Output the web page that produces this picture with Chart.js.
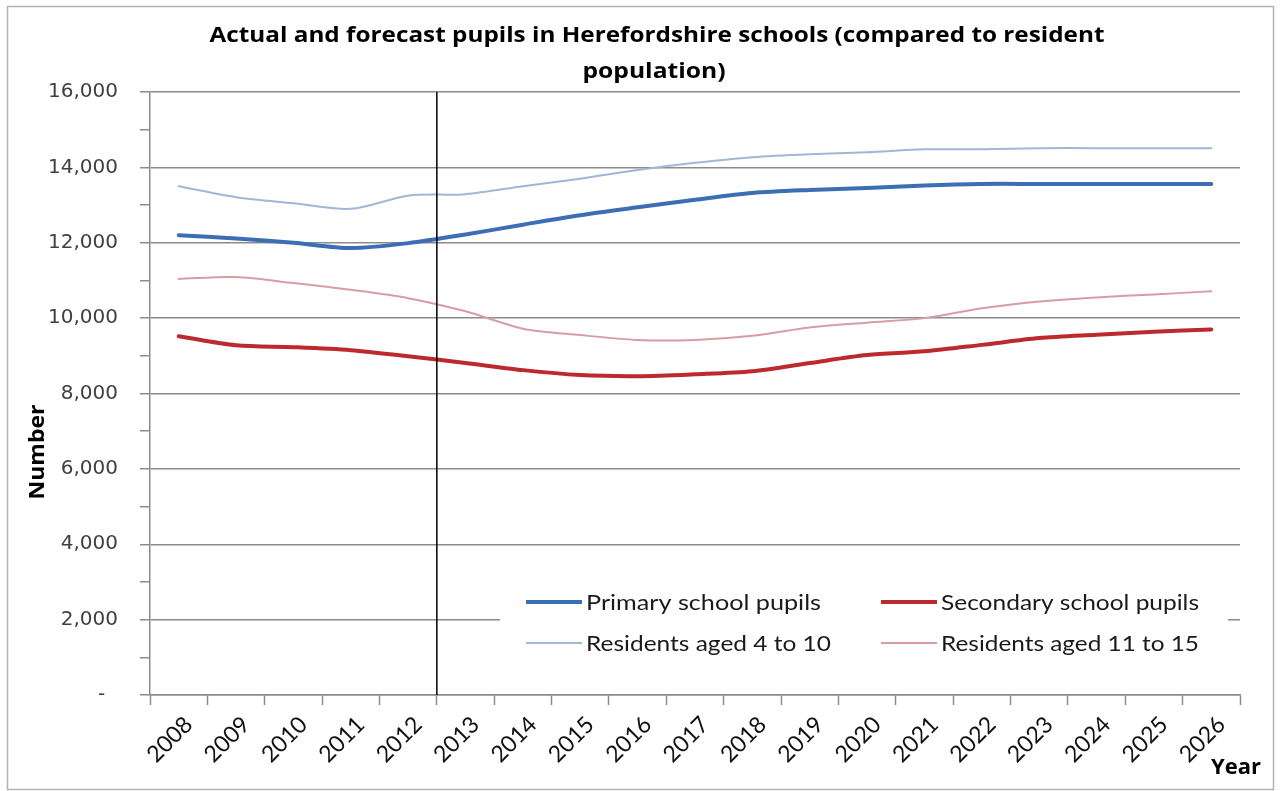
<!DOCTYPE html>
<html>
<head>
<meta charset="utf-8">
<script src="https://cdn.jsdelivr.net/npm/chart.js@4.4.1/dist/chart.umd.min.js"></script>
<style>
  html, body { margin: 0; padding: 0; background: #fff; }
  #wrap { position: relative; width: 1281px; height: 791px; }
</style>
</head>
<body>
<div id="wrap"><canvas id="pupilsChart" width="1281" height="791"></canvas></div>
<script>
const years = ["2008", "2009", "2010", "2011", "2012", "2013", "2014", "2015", "2016", "2017",
  "2018", "2019", "2020", "2021", "2022", "2023", "2024", "2025", "2026"];

const primaryPupils = [12200, 12110, 12000, 11860, 11990, 12220, 12480, 12730, 12940, 13140,
  13320, 13400, 13450, 13520, 13560, 13560, 13560, 13560, 13560];
const secondaryPupils = [9520, 9280, 9230, 9150, 8990, 8810, 8620, 8490, 8460, 8510,
  8590, 8810, 9020, 9120, 9290, 9470, 9560, 9640, 9700];
const residents4to10 = [13500, 13210, 13050, 12900, 13250, 13290, 13500, 13700, 13930, 14120,
  14270, 14350, 14400, 14480, 14480, 14510, 14510, 14510, 14510];
const residents11to15 = [11040, 11090, 10930, 10750, 10530, 10180, 9720, 9550, 9420, 9420,
  9530, 9750, 9880, 10000, 10260, 10440, 10550, 10630, 10710];

const seriesNames = ["Primary school pupils", "Secondary school pupils",
  "Residents aged 4 to 10", "Residents aged 11 to 15"];
const titleLines = ["Actual and forecast pupils in Herefordshire schools (compared to resident", "population)"];

const gridGrey = "#8c8c8c";

// the source picture is a bit stretched sideways, so text gets fitted to a width
function wideText(c, text, x, y, width) {
  const w = c.measureText(text).width;
  const k = width / w;
  c.save();
  c.translate(x, y);
  c.scale(k, 1);
  c.fillText(text, 0, 0);
  c.restore();
}

const extras = {
  id: "extras",
  beforeDraw(chart) {
    const c = chart.ctx;
    c.save();
    c.fillStyle = "#fff";
    c.fillRect(0, 0, chart.width, chart.height);
    c.restore();
  },
  afterDatasetsDraw(chart) {
    const c = chart.ctx;
    const x = chart.scales.x;
    const area = chart.chartArea;
    // actual / forecast split sits between 2012 and 2013
    const splitX = (x.getPixelForValue(4) + x.getPixelForValue(5)) / 2;
    c.save();
    c.strokeStyle = "#000";
    c.lineWidth = 1.5;
    c.beginPath();
    c.moveTo(splitX, area.top);
    c.lineTo(splitX, area.bottom);
    c.stroke();
    c.restore();
  },
  afterDraw(chart) {
    const c = chart.ctx;
    c.save();

    c.strokeStyle = "#b4b4b4";
    c.lineWidth = 1.5;
    c.strokeRect(7.5, 6.5, 1266, 783);

    // title
    c.fillStyle = "#000";
    c.font = "bold 22px 'Open Sans'";
    c.textAlign = "center";
    c.textBaseline = "middle";
    wideText(c, titleLines[0], 657, 36, 895);
    wideText(c, titleLines[1], 654, 72, 143);

    // axis titles
    c.font = "bold 21px 'Open Sans'";
    c.save();
    c.translate(38, 452);
    c.rotate(-Math.PI / 2);
    wideText(c, "Number", 0, 0, 95);
    c.restore();
    c.font = "bold 22px 'Open Sans'";
    c.textAlign = "left";
    c.fillText("Year", 1211, 768);

    // legend
    c.fillStyle = "#fff";
    c.fillRect(500, 580, 728, 84);
    const ds = chart.data.datasets;
    const items = [
      { d: ds[0], x: 526, y: 602, w: 235 },
      { d: ds[1], x: 881, y: 602, w: 258 },
      { d: ds[2], x: 526, y: 643, w: 245 },
      { d: ds[3], x: 881, y: 643, w: 258 }
    ];
    c.font = "22px Lato";
    c.textAlign = "left";
    c.textBaseline = "middle";
    items.forEach((it) => {
      c.strokeStyle = it.d.borderColor;
      c.lineWidth = it.d.borderWidth;
      c.beginPath();
      c.moveTo(it.x, it.y);
      c.lineTo(it.x + 56, it.y);
      c.stroke();
      c.fillStyle = "#1a1a1a";
      wideText(c, it.d.label, it.x + 60, it.y + 1, it.w);
    });
    c.restore();
  }
};

new Chart(document.getElementById("pupilsChart"), {
  type: "line",
  data: {
    labels: years,
    datasets: [
      { label: seriesNames[0], data: primaryPupils, borderColor: "#3b6eb4", borderWidth: 4 },
      { label: seriesNames[1], data: secondaryPupils, borderColor: "#bc2a2f", borderWidth: 4 },
      { label: seriesNames[2], data: residents4to10, borderColor: "#9fb7d8", borderWidth: 2 },
      { label: seriesNames[3], data: residents11to15, borderColor: "#d89ca4", borderWidth: 2 }
    ]
  },
  options: {
    responsive: false,
    animation: false,
    devicePixelRatio: 1,
    elements: {
      point: { radius: 0 },
      line: { tension: 0.3, borderCapStyle: "round" }
    },
    layout: { padding: { top: 92, right: 41, left: 0, bottom: 0 } },
    plugins: {
      legend: { display: false },
      title: { display: false },
      tooltip: { enabled: false }
    },
    scales: {
      x: {
        offset: true,
        grid: {
          offset: true,
          drawOnChartArea: false,
          drawTicks: true,
          tickLength: 10,
          tickColor: gridGrey,
          tickWidth: 1.5
        },
        border: { color: gridGrey, width: 1.5 },
        ticks: {
          autoSkip: false,
          minRotation: 45,
          maxRotation: 45,
          labelOffset: 10,
          padding: 6,
          color: "#111",
          font: { family: "Lato", size: 23 }
        },
        afterFit(scale) { scale.height = 96; }
      },
      y: {
        min: 0,
        max: 16000,
        grid: {
          color: (ctx) => (ctx.tick && ctx.tick.value % 2000 === 0 ? gridGrey : "rgba(0,0,0,0)"),
          lineWidth: 1.5,
          tickColor: gridGrey,
          tickLength: 10,
          tickWidth: 1.5
        },
        border: { color: gridGrey, width: 1.5 },
        ticks: {
          stepSize: 1000,
          padding: 22,
          color: "#404040",
          font: { family: "DejaVu Sans", size: 20 },
          callback: (v) => {
            if (v % 2000 !== 0) return "";
            if (v === 0) return "-  ";
            return v.toLocaleString("en-US");
          }
        },
        afterFit(scale) { scale.width = 150; }
      }
    }
  },
  plugins: [extras]
});
</script>
</body>
</html>
